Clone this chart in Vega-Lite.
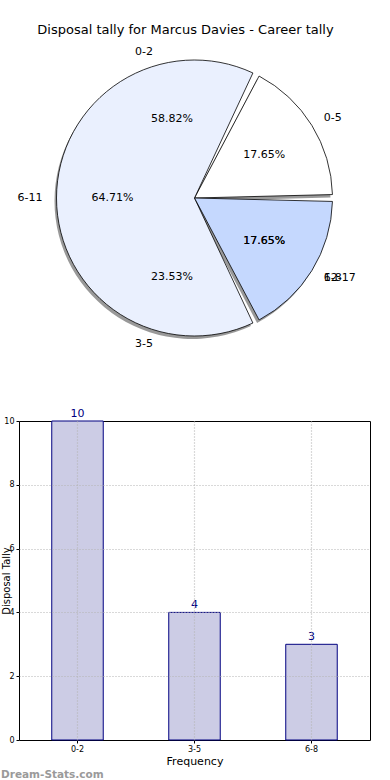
{
  "$schema": "https://vega.github.io/schema/vega-lite/v6.json",
  "autosize": {"type": "pad"},
  "padding": {"left": 0, "top": 24, "right": 20, "bottom": 0},
  "background": "white",
  "title": {"text": "Disposal tally for Marcus Davies - Career tally", "anchor": "middle", "fontSize": 13, "fontWeight": "normal", "font": "DejaVu Sans", "color": "black", "offset": 3},
  "config": {"font": "DejaVu Sans", "view": {"stroke": null}},
  "datasets": {
    "pie1": [
      {"label": "0-5", "count": 3, "pct": "17.65%", "ord": 1},
      {"label": "6-11", "count": 11, "pct": "64.71%", "ord": 2},
      {"label": "12-17", "count": 3, "pct": "17.65%", "ord": 3}
    ],
    "pie2": [
      {"label": "0-2", "count": 10, "pct": "58.82%", "ord": 1},
      {"label": "3-5", "count": 4, "pct": "23.53%", "ord": 2},
      {"label": "6-8", "count": 3, "pct": "17.65%", "ord": 3}
    ],
    "bars": [
      {"bin": "0-2", "tally": 10},
      {"bin": "3-5", "tally": 4},
      {"bin": "6-8", "tally": 3}
    ]
  },
  "vconcat": [
    {
      "width": 351,
      "height": 316,
      "data": {"name": "pie1"},
      "encoding": {
        "theta": {"field": "count", "type": "quantitative", "stack": true, "scale": {"range": [1.5708, 7.854]}},
        "order": {"field": "ord", "type": "quantitative", "sort": "descending"}
      },
      "layer": [
        {
          "mark": {"type": "arc", "radius": 138, "fill": "#555555", "fillOpacity": 0.6, "xOffset": -2, "yOffset": 3, "padAngle": 0.05}
        },
        {
          "mark": {"type": "arc", "radius": 138, "stroke": "black", "strokeWidth": 0.8, "padAngle": 0.05},
          "encoding": {
            "color": {"field": "label", "type": "nominal", "legend": null, "scale": {"domain": ["0-5", "6-11", "12-17"], "range": ["#ffffff", "#eaf0fe", "#c5d8fe"]}}
          }
        },
        {
          "mark": {"type": "text", "radius": 82, "fontSize": 11, "color": "black"},
          "encoding": {"text": {"field": "pct"}}
        },
        {
          "mark": {"type": "text", "radius": 152, "fontSize": 11, "color": "black", "align": {"expr": "indexof(['6-11'], datum.label) >= 0 ? 'right' : 'left'"}},
          "encoding": {"text": {"field": "label"}}
        },
        {
          "data": {"name": "pie2"},
          "mark": {"type": "text", "radius": 82, "fontSize": 11, "color": "black"},
          "encoding": {"text": {"field": "pct"}}
        },
        {
          "data": {"name": "pie2"},
          "mark": {"type": "text", "radius": 152, "fontSize": 11, "color": "black", "align": {"expr": "indexof(['0-2', '3-5'], datum.label) >= 0 ? 'right' : 'left'"}},
          "encoding": {"text": {"field": "label"}}
        }
      ]
    },
    {
      "width": 351,
      "height": 319,
      "data": {"name": "bars"},
      "view": {"stroke": "black", "strokeWidth": 1},
      "title": {"text": "Dream-Stats.com", "orient": "bottom", "anchor": "start", "dx": 0, "offset": 4, "fontSize": 10.5, "fontWeight": "bold", "color": "#9a9a9a", "font": "DejaVu Sans"},
      "encoding": {
        "x": {"field": "bin", "type": "nominal", "scale": {"paddingInner": 0, "paddingOuter": 0},
          "axis": {"zindex": 1, "labelAngle": 0, "title": "Frequency", "titleFontSize": 11, "titleFontWeight": "normal", "titlePadding": 2, "labelFontSize": 8, "domain": false, "ticks": true, "tickSize": 3, "tickColor": "black", "labelPadding": 2, "grid": true, "gridDash": [1, 2], "gridColor": "#b4b4b4", "gridWidth": 1.2}},
        "y": {"field": "tally", "type": "quantitative", "scale": {"domain": [0, 10], "nice": false},
          "axis": {"zindex": 1, "values": [0, 2, 4, 6, 8, 10], "title": "Disposal Tally", "titleFontSize": 10, "titleFontWeight": "normal", "titleX": -8, "labelFontSize": 8, "domain": false, "tickSize": 3, "tickColor": "black", "labelPadding": 2, "grid": true, "gridDash": [1, 2], "gridColor": "#b4b4b4", "gridWidth": 1.2,
            "gridOpacity": {"condition": {"test": "datum.value == 0 || datum.value == 10", "value": 0}, "value": 1}}}
      },
      "layer": [
        {"mark": {"type": "bar", "width": {"band": 0.44}, "fill": "#ccccE5", "stroke": "#000080", "strokeWidth": 1}},
        {"mark": {"type": "text", "dy": -7, "fontSize": 11, "color": "#000080"}, "encoding": {"text": {"field": "tally"}}}
      ]
    }
  ],
  "spacing": 65,
  "bounds": "flush"
}
